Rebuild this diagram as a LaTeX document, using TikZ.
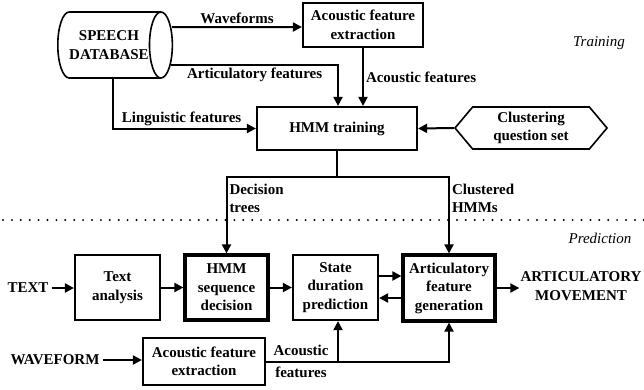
\documentclass[tikz,border=0pt]{standalone}
\usepackage{fontspec}
\setmainfont{Liberation Serif}
\usetikzlibrary{arrows.meta,positioning,calc,shapes.geometric,shapes.symbols}

\begin{document}
\begin{tikzpicture}[x=1pt, y=-1pt,
		every node/.style={align=center, font=\fontsize{15}{18.5}\selectfont\bfseries},
		procBox/.style={
				draw, line width=2.2pt,
				inner sep=2pt
			},
		thickBox/.style={
				procBox, line width=3.2pt
			},
		dbShape/.style={
				draw, shape=cylinder, shape border rotate=0,
				shape aspect=0.8, line width=1.6pt,
				minimum height=112pt, minimum width=66pt, inner sep=0pt
			},
		questionShape/.style={
				draw, shape=signal, signal to=west and east,
				signal pointer angle=100, line width=1.6pt,
				minimum width=152pt, minimum height=42pt, inner sep=0pt
			},
		edgeLabel/.style={inner sep=2pt},
		phaseLabel/.style={font=\fontsize{15}{18}\selectfont\itshape},
		flow/.style={line width=2pt, -{Triangle[length=9pt, width=9pt]}},
		plainFlow/.style={line width=2pt}
	]
	\useasboundingbox (0,0) rectangle (644,389);

	% Training part
	\node[dbShape, anchor=west] (db) at (57,45) {SPEECH\\DATABASE};
	\node[procBox, minimum width=120pt, minimum height=44pt] (afeTop) at (363,25) {Acoustic feature\\extraction};
	\node[procBox, minimum width=160pt, minimum height=43pt] (hmmTrain) at (337,128.5) {HMM training};
	\node[questionShape] (cqs) at (531,128) {Clustering\\question set};
	\node[phaseLabel] (trainLbl) at (599,43) {Training};

	\draw[flow] ($(db.east)+(-1,-18)$) -- (afeTop.west |- 0,27)
		node[midway, above, edgeLabel] {Waveforms};
	\draw[flow] ($(db.east)+(-2,20)$) -| ($(hmmTrain.north)+(1,0)$)
		node[pos=0.25, below, edgeLabel] {Articulatory features};
	\draw[flow] (afeTop.south) -- (afeTop.south |- hmmTrain.north)
		node[pos=0.5, right, edgeLabel] {Acoustic features};
	\draw[flow] (db.south -| 113,0) |- (hmmTrain.west)
		node[pos=0.74, above, edgeLabel] {Linguistic features};
	\draw[flow] (cqs.west) -- (hmmTrain.east);

	% Separator
	\draw[line width=2.2pt, line cap=round, dash pattern=on 0pt off 8.9pt] (3,220) -- (644,220);
	\node[phaseLabel] (predLbl) at (600,238) {Prediction};

	% Prediction part
	\node (textIn) at (28,288) {TEXT};
	\node[procBox, minimum width=85pt, minimum height=65pt] (textAna) at (117.5,287.5) {Text\\analysis};
	\node[thickBox, minimum width=83pt, minimum height=65pt] (hmmSeq) at (226.5,287.5) {HMM\\sequence\\decision};
	\node[procBox, minimum width=85pt, minimum height=65pt] (stateDur) at (335.5,287.5) {State\\duration\\prediction};
	\node[thickBox, minimum width=92pt, minimum height=66pt] (artGen) at (449,288) {Articulatory\\feature\\generation};
	\node[inner sep=1pt] (artOut) at (581,286) {ARTICULATORY\\MOVEMENT};
	\node (waveIn) at (55,360) {WAVEFORM};
	\node[procBox, minimum width=122pt, minimum height=47pt] (afeBot) at (204,361.5) {Acoustic feature\\extraction};

	\coordinate (split) at (hmmTrain.south |- 0,177);
	\draw[plainFlow] (hmmTrain.south) -- (split);
	\draw[flow] (split) -| (hmmSeq.north)
		node[pos=0.64, right, edgeLabel, align=left] {Decision\\trees};
	\draw[flow] (split) -| (artGen.north)
		node[pos=0.64, right, edgeLabel, align=left] {Clustered\\HMMs};

	\draw[flow] (textIn.east) -- (textIn.east -| textAna.west);
	\draw[flow] (textAna.east) -- (hmmSeq.west);
	\draw[flow] (hmmSeq.east) -- (stateDur.west);
	\draw[flow] ($(stateDur.east)+(0,-11.5)$) -- ($(artGen.west)+(0,-12)$);
	\draw[flow] ($(artGen.west)+(0,10)$) -- ($(stateDur.east)+(0,10.5)$);
	\draw[flow] (artGen.east) -- (artGen.east -| artOut.west);

	\draw[flow] (waveIn.east) -- (waveIn.east -| afeBot.west);
	\draw[flow] (afeBot.east) -| (artGen.south);
	\draw[flow] (afeBot.east -| 338,0) -- (338,0 |- stateDur.south);
	\node[edgeLabel] (acLbl) at (301,361) {Acoustic\\[3.5pt]features};
\end{tikzpicture}
\end{document}
